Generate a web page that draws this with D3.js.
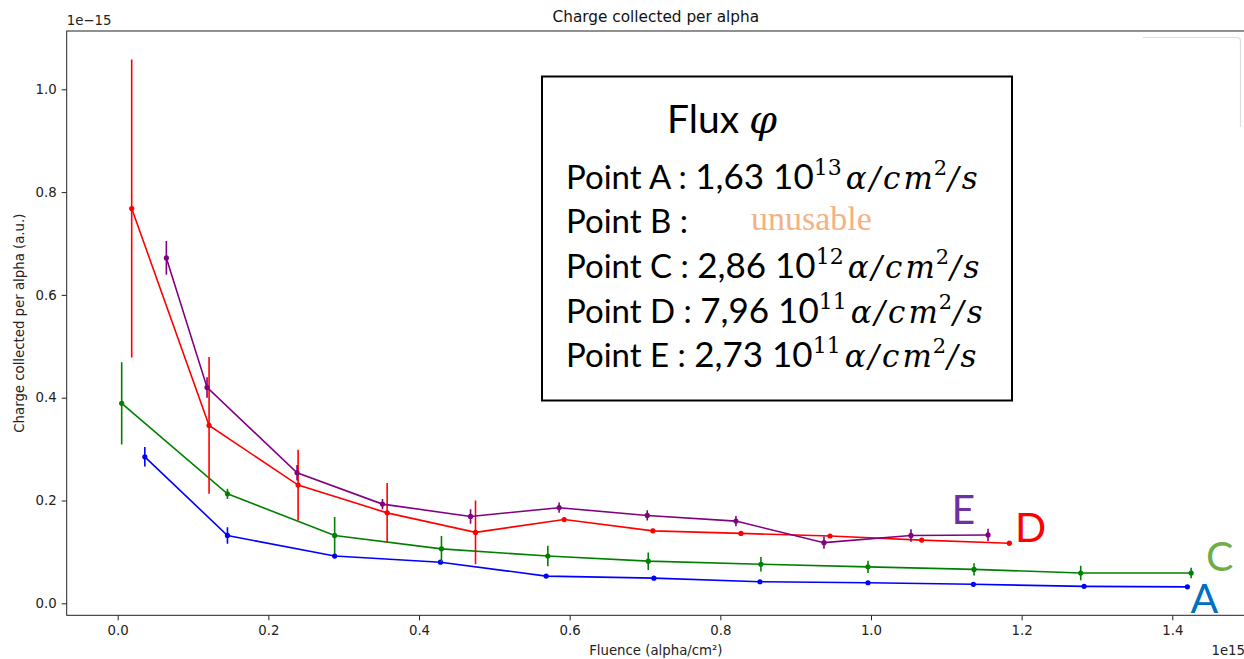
<!DOCTYPE html>
<html><head><meta charset="utf-8">
<script src="https://cdn.jsdelivr.net/npm/d3@7"></script>
<style>body{margin:0;background:#fff}svg{display:block}</style>
</head><body>
<script>
// ---- data (x in 1e15 alpha/cm², y in 1e-15) ----
const xA = [0.036, 0.1457, 0.288, 0.4285, 0.5688, 0.7118, 0.8526, 0.996, 1.1359, 1.2829, 1.42];
const yA = [0.285, 0.132, 0.092, 0.080, 0.053, 0.049, 0.042, 0.040, 0.037, 0.033, 0.032];
const eA = [0.019, 0.016, 0.004, 0.003, 0.003, 0.003, 0.003, 0.003, 0.003, 0.003, 0.003];

const xC = [0.0053, 0.1457, 0.288, 0.4298, 0.571, 0.7043, 0.8539, 0.996, 1.1368, 1.2784, 1.425];
const yC = [0.389, 0.213, 0.132, 0.106, 0.092, 0.082, 0.076, 0.071, 0.066, 0.059, 0.059];
const eC = [0.08, 0.01, 0.036, 0.025, 0.02, 0.017, 0.014, 0.012, 0.012, 0.014, 0.01];

const xD = [0.0186, 0.1213, 0.2395, 0.3577, 0.475, 0.5927, 0.7105, 0.8274, 0.9456, 1.0673, 1.1837];
const yD = [0.768, 0.346, 0.230, 0.176, 0.138, 0.163, 0.141, 0.136, 0.131, 0.123, 0.117];
const eD = [0.29, 0.133, 0.069, 0.058, 0.062, 0.004, 0.004, 0.004, 0.004, 0.004, 0.004];

const xE = [0.0646, 0.1186, 0.2381, 0.3515, 0.4684, 0.586, 0.703, 0.8207, 0.9376, 1.0531, 1.1554];
const yE = [0.672, 0.420, 0.254, 0.193, 0.169, 0.186, 0.171, 0.160, 0.118, 0.132, 0.133];
const eE = [0.033, 0.02, 0.015, 0.01, 0.014, 0.01, 0.01, 0.01, 0.012, 0.012, 0.012];

const seriesNames = ["A", "C", "D", "E"];
const seriesColors = ["#0000ff", "#008000", "#ff0000", "#800080"];
const labelColors = ["#0070C0", "#70AD47", "#ff0000", "#7030A0"];

const xTicks = [0.0, 0.2, 0.4, 0.6, 0.8, 1.0, 1.2, 1.4];
const yTicks = [0.0, 0.2, 0.4, 0.6, 0.8, 1.0];

const fluxLabels = ["A", "B", "C", "D", "E"];
const fluxMant = ["1,63", null, "2,86", "7,96", "2,73"];
const fluxExp = ["13", null, "12", "11", "11"];

// ---- layout ----
const W = 1244, H = 659;
const L = 66.7, R = 1245, T = 31, B = 615.3;
const x = d3.scaleLinear().domain([-0.0677, 1.4965]).range([L, R]);
const y = d3.scaleLinear().domain([-0.0233, 1.1134]).range([B, T]);

const svg = d3.select("body").append("svg").attr("width", W).attr("height", H)
  .style("font-family", "'DejaVu Sans', sans-serif");

svg.append("clipPath").attr("id", "clip").append("rect")
  .attr("x", L).attr("y", T).attr("width", R - L).attr("height", B - T);

// axes
const xAxis = d3.axisBottom(x).tickValues(xTicks).tickFormat(d3.format(".1f")).tickSize(5).tickPadding(5);
const yAxis = d3.axisLeft(y).tickValues(yTicks).tickFormat(d3.format(".1f")).tickSize(5).tickPadding(5);
const gx = svg.append("g").attr("transform", `translate(0,${B})`).call(xAxis);
const gy = svg.append("g").attr("transform", `translate(${L},0)`).call(yAxis);
[gx, gy].forEach(g => {
  g.select(".domain").remove();
  g.selectAll("line").attr("stroke", "#222");
  g.selectAll("text").attr("fill", "#222").style("font-size", "13.3px").style("font-family", "'DejaVu Sans', sans-serif");
});
// spines
svg.append("rect").attr("x", L).attr("y", T).attr("width", R - L).attr("height", B - T)
  .attr("fill", "none").attr("stroke", "#222").attr("stroke-width", 1);

// faint box top right
svg.append("path").attr("d", `M1143,37.5 H1237 Q1240.5,37.5 1240.5,41 V127`)
  .attr("fill", "none").attr("stroke", "#dcdcdc").attr("stroke-width", 1.2);

// texts
svg.append("text").attr("x", (L + R) / 2).attr("y", 22).attr("text-anchor", "middle")
  .style("font-size", "15.3px").attr("fill", "#111").text("Charge collected per alpha");
svg.append("text").attr("x", L).attr("y", 25).style("font-size", "13.3px").attr("fill", "#222").text("1e\u221215");
svg.append("text").attr("x", R).attr("y", 655).attr("text-anchor", "end").style("font-size", "13.3px").attr("fill", "#222").text("1e15");
svg.append("text").attr("x", (L + R) / 2).attr("y", 655).attr("text-anchor", "middle")
  .style("font-size", "13.3px").attr("fill", "#222").text("Fluence (alpha/cm²)");
svg.append("text").attr("transform", `translate(24,${(T + B) / 2}) rotate(-90)`).attr("text-anchor", "middle")
  .style("font-size", "13.3px").attr("fill", "#222").text("Charge collected per alpha (a.u.)");

// series
const data = [[xA, yA, eA], [xC, yC, eC], [xD, yD, eD], [xE, yE, eE]];
const plot = svg.append("g").attr("clip-path", "url(#clip)");
data.forEach(([xs, ys, es], i) => {
  const pts = xs.map((v, j) => ({ x: v, y: ys[j], e: es[j] }));
  const g = plot.append("g");
  g.append("path").datum(pts)
    .attr("d", d3.line().x(d => x(d.x)).y(d => y(d.y)))
    .attr("fill", "none").attr("stroke", seriesColors[i]).attr("stroke-width", 1.6);
  g.selectAll("line.err").data(pts).join("line").attr("class", "err")
    .attr("x1", d => x(d.x)).attr("x2", d => x(d.x))
    .attr("y1", d => y(d.y - d.e)).attr("y2", d => y(d.y + d.e))
    .attr("stroke", seriesColors[i]).attr("stroke-width", 1.6);
  g.selectAll("circle").data(pts).join("circle")
    .attr("cx", d => x(d.x)).attr("cy", d => y(d.y)).attr("r", 2.6)
    .attr("fill", seriesColors[i]);
});

// series letters (overlay)
const letterPos = [[1190.5, 613], [1206, 570.5], [1015, 541.5], [951.5, 524]];
seriesNames.forEach((n, i) => {
  svg.append("text").attr("x", letterPos[i][0]).attr("y", letterPos[i][1])
    .style("font-family", "Lato, 'Open Sans', sans-serif").style("font-size", "41px")
    .attr("fill", labelColors[i]).text(n);
});

// annotation box
svg.append("rect").attr("x", 542).attr("y", 76.5).attr("width", 470).attr("height", 324)
  .attr("fill", "#fff").attr("stroke", "#000").attr("stroke-width", 2);
const sansF = "Lato, 'Open Sans', sans-serif";
const serifF = "'DejaVu Serif', 'Liberation Serif', serif";
const title = svg.append("text").attr("x", 667).attr("y", 133).style("font-size", "39px").attr("fill", "#000");
title.append("tspan").style("font-family", sansF).text("Flux ");
title.append("tspan").style("font-family", serifF).style("font-style", "italic").style("font-size", "40px").text("\u03C6");

const baselines = [188.5, 232.5, 278.3, 323.3, 366.7];
fluxLabels.forEach((lab, i) => {
  const t = svg.append("text").attr("x", 566).attr("y", baselines[i]).style("font-size", "33px").attr("fill", "#000");
  t.append("tspan").style("font-family", sansF).text(`Point ${lab} : `);
  if (fluxMant[i] === null) {
    svg.append("text").attr("x", 751).attr("y", 230).style("font-size", "34px")
      .style("font-family", "'Liberation Serif', serif").attr("fill", "#F4B183").text("unusable");
    return;
  }
  t.append("tspan").style("font-family", sansF).style("font-size", "35px").text(`${fluxMant[i]} 10`);
  t.append("tspan").style("font-family", serifF).style("font-size", "22px").attr("dy", -14).text(fluxExp[i]);
  t.append("tspan").style("font-family", serifF).style("font-style", "italic").style("font-size", "31px")
    .style("letter-spacing", "3px").attr("dy", 14).attr("dx", 4).text("\u03B1/cm");
  t.append("tspan").style("font-family", serifF).style("font-size", "21px").attr("dy", -14).attr("dx", -2).text("2");
  t.append("tspan").style("font-family", serifF).style("font-style", "italic").style("font-size", "31px")
    .style("letter-spacing", "3px").attr("dy", 14).attr("dx", 1).text("/s");
});
</script>
</body></html>
